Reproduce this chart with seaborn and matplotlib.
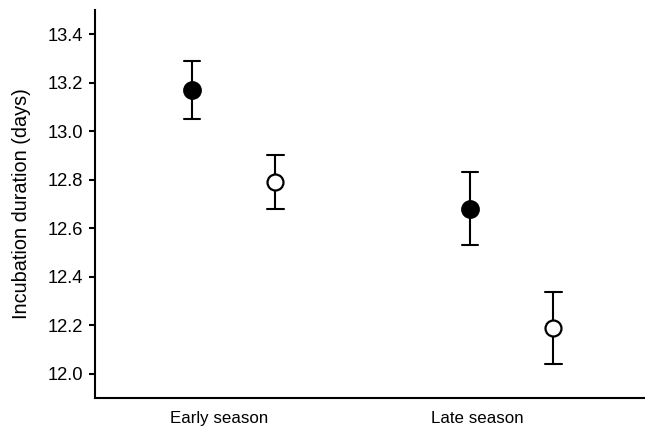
import pandas as pd
import seaborn as sns
import matplotlib.pyplot as plt
from matplotlib.transforms import ScaledTranslation

season = ['Early season', 'Late season']
groups = ['filled', 'open']
means = {'filled': [13.17, 12.68], 'open': [12.79, 12.19]}
errs = {'filled': [0.12, 0.15], 'open': [0.11, 0.148]}

# long table: lower end, mean, upper end for each point
rows = []
for g in groups:
    for s, m, e in zip(season, means[g], errs[g]):
        for v in (m - e, m, m + e):
            rows.append({'season': s, 'group': g, 'days': v})
df = pd.DataFrame(rows)

sns.set_style('ticks', {'axes.edgecolor': 'black', 'text.color': 'black',
                        'axes.labelcolor': 'black', 'xtick.color': 'black', 'ytick.color': 'black'})
plt.rcParams['font.family'] = ['Liberation Sans', 'DejaVu Sans']

fig = plt.figure(figsize=(6.45, 4.28), dpi=100)
ax = fig.add_axes([0.147, 0.070, 0.853, 0.907])

sns.pointplot(data=df, x='season', y='days', hue='group', order=season, hue_order=groups,
              estimator='median', errorbar=lambda x: (x.min(), x.max()),
              palette=['black', 'black'], dodge=0.3, linestyle='none', markers='o',
              markersize=11.5, capsize=0.06, err_kws={'linewidth': 1.5}, legend=False, ax=ax)

# second group drawn as open circles
pt_lines = [ln for ln in ax.lines if ln.get_marker() == 'o']
for ln in pt_lines[1:]:
    ln.set_markerfacecolor('white')
    ln.set_markeredgewidth(1.6)
for ln in pt_lines:
    ln.set_zorder(5)

ax.set_ylim(11.9, 13.5)
yt = [12.0, 12.2, 12.4, 12.6, 12.8, 13.0, 13.2, 13.4]
ax.set_yticks(yt)
ax.set_yticklabels([f'{v:.1f}' for v in yt])
ax.set_xlim(-0.5, 1.48)
ax.set_xlabel('')
ax.set_ylabel('Incubation duration (days)', fontsize=14.3, labelpad=12)
ax.tick_params(axis='y', labelsize=13.2, length=4.5, width=1.5, pad=4)
ax.tick_params(axis='x', labelsize=12.2, length=0, pad=9)
for side in ['left', 'bottom']:
    ax.spines[side].set_linewidth(1.5)
sns.despine(ax=ax)

# labels sit a little left of the point pairs, as in the original
for lab, dx in zip(ax.get_xticklabels(), [-15, -34]):
    lab.set_transform(lab.get_transform() + ScaledTranslation(dx / 100, 0, fig.dpi_scale_trans))

fig.savefig('out.png', dpi=100)
